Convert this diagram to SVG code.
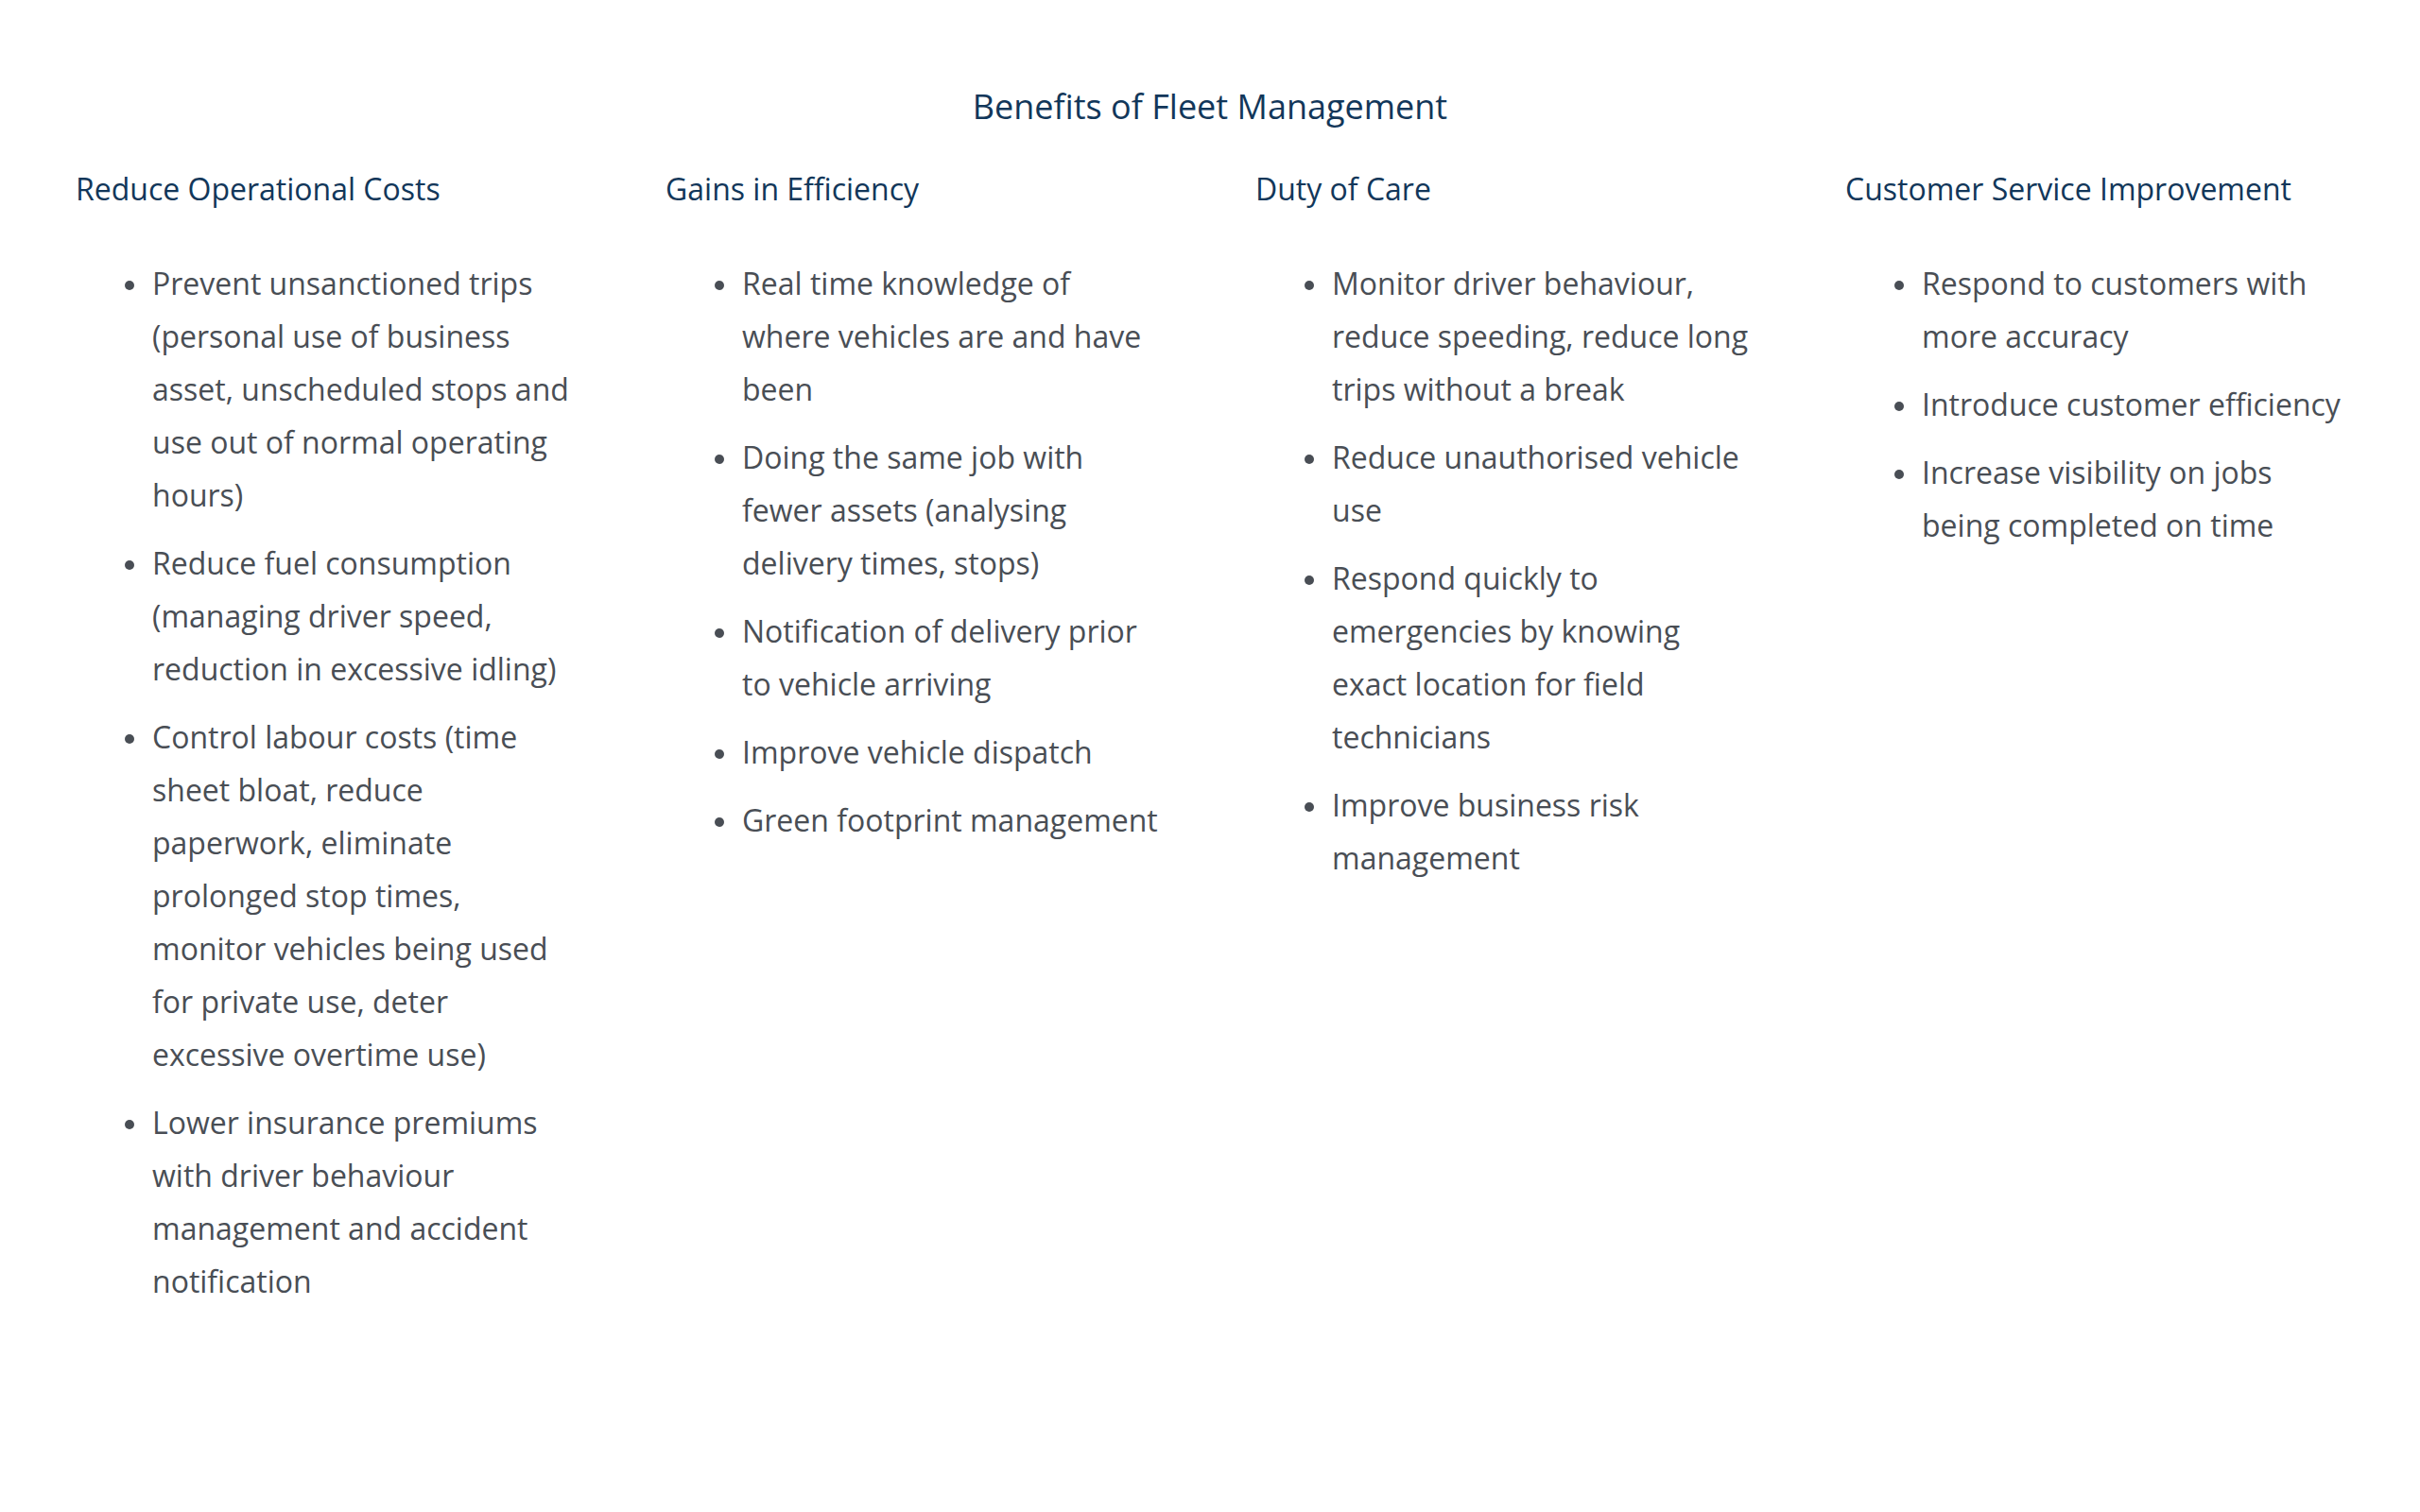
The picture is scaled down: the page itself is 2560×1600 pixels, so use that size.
<svg xmlns="http://www.w3.org/2000/svg" width="2560" height="1600" viewBox="0 0 2560 1600">
<style>
text{font-family:"Open Sans","Noto Sans","Liberation Sans",sans-serif;}
.title{font-size:36px;fill:#12375a;}
.head{font-size:32px;fill:#12375a;}
.body{font-size:32px;fill:#494e55;}
.dot{fill:#494e55;}
</style>
<rect width="2560" height="1600" fill="#ffffff"/>
<g id="title"><text class="title" x="1280" y="126" text-anchor="middle">Benefits of Fleet Management</text></g>
<g id="connectors"></g>

<g id="col1" transform="translate(0,2)">
<text class="head" x="80" y="210">Reduce Operational Costs</text>
<circle class="dot" cx="137" cy="300" r="5"/>
<text class="body" x="161" y="310">Prevent unsanctioned trips</text>
<text class="body" x="161" y="366">(personal use of business</text>
<text class="body" x="161" y="422">asset, unscheduled stops and</text>
<text class="body" x="161" y="478">use out of normal operating</text>
<text class="body" x="161" y="534">hours)</text>
<circle class="dot" cx="137" cy="596" r="5"/>
<text class="body" x="161" y="606">Reduce fuel consumption</text>
<text class="body" x="161" y="662">(managing driver speed,</text>
<text class="body" x="161" y="718">reduction in excessive idling)</text>
<circle class="dot" cx="137" cy="780" r="5"/>
<text class="body" x="161" y="790">Control labour costs (time</text>
<text class="body" x="161" y="846">sheet bloat, reduce</text>
<text class="body" x="161" y="902">paperwork, eliminate</text>
<text class="body" x="161" y="958">prolonged stop times,</text>
<text class="body" x="161" y="1014">monitor vehicles being used</text>
<text class="body" x="161" y="1070">for private use, deter</text>
<text class="body" x="161" y="1126">excessive overtime use)</text>
<circle class="dot" cx="137" cy="1188" r="5"/>
<text class="body" x="161" y="1198">Lower insurance premiums</text>
<text class="body" x="161" y="1254">with driver behaviour</text>
<text class="body" x="161" y="1310">management and accident</text>
<text class="body" x="161" y="1366">notification</text>
</g>

<g id="col2" transform="translate(0,2)">
<text class="head" x="704" y="210">Gains in Efficiency</text>
<circle class="dot" cx="761" cy="300" r="5"/>
<text class="body" x="785" y="310">Real time knowledge of</text>
<text class="body" x="785" y="366">where vehicles are and have</text>
<text class="body" x="785" y="422">been</text>
<circle class="dot" cx="761" cy="484" r="5"/>
<text class="body" x="785" y="494">Doing the same job with</text>
<text class="body" x="785" y="550">fewer assets (analysing</text>
<text class="body" x="785" y="606">delivery times, stops)</text>
<circle class="dot" cx="761" cy="668" r="5"/>
<text class="body" x="785" y="678">Notification of delivery prior</text>
<text class="body" x="785" y="734">to vehicle arriving</text>
<circle class="dot" cx="761" cy="796" r="5"/>
<text class="body" x="785" y="806">Improve vehicle dispatch</text>
<circle class="dot" cx="761" cy="868" r="5"/>
<text class="body" x="785" y="878">Green footprint management</text>
</g>

<g id="col3" transform="translate(0,2)">
<text class="head" x="1328" y="210">Duty of Care</text>
<circle class="dot" cx="1385" cy="300" r="5"/>
<text class="body" x="1409" y="310">Monitor driver behaviour,</text>
<text class="body" x="1409" y="366">reduce speeding, reduce long</text>
<text class="body" x="1409" y="422">trips without a break</text>
<circle class="dot" cx="1385" cy="484" r="5"/>
<text class="body" x="1409" y="494">Reduce unauthorised vehicle</text>
<text class="body" x="1409" y="550">use</text>
<circle class="dot" cx="1385" cy="612" r="5"/>
<text class="body" x="1409" y="622">Respond quickly to</text>
<text class="body" x="1409" y="678">emergencies by knowing</text>
<text class="body" x="1409" y="734">exact location for field</text>
<text class="body" x="1409" y="790">technicians</text>
<circle class="dot" cx="1385" cy="852" r="5"/>
<text class="body" x="1409" y="862">Improve business risk</text>
<text class="body" x="1409" y="918">management</text>
</g>

<g id="col4" transform="translate(0,2)">
<text class="head" x="1952" y="210">Customer Service Improvement</text>
<circle class="dot" cx="2009" cy="300" r="5"/>
<text class="body" x="2033" y="310">Respond to customers with</text>
<text class="body" x="2033" y="366">more accuracy</text>
<circle class="dot" cx="2009" cy="428" r="5"/>
<text class="body" x="2033" y="438">Introduce customer efficiency</text>
<circle class="dot" cx="2009" cy="500" r="5"/>
<text class="body" x="2033" y="510">Increase visibility on jobs</text>
<text class="body" x="2033" y="566">being completed on time</text>
</g>
</svg>
